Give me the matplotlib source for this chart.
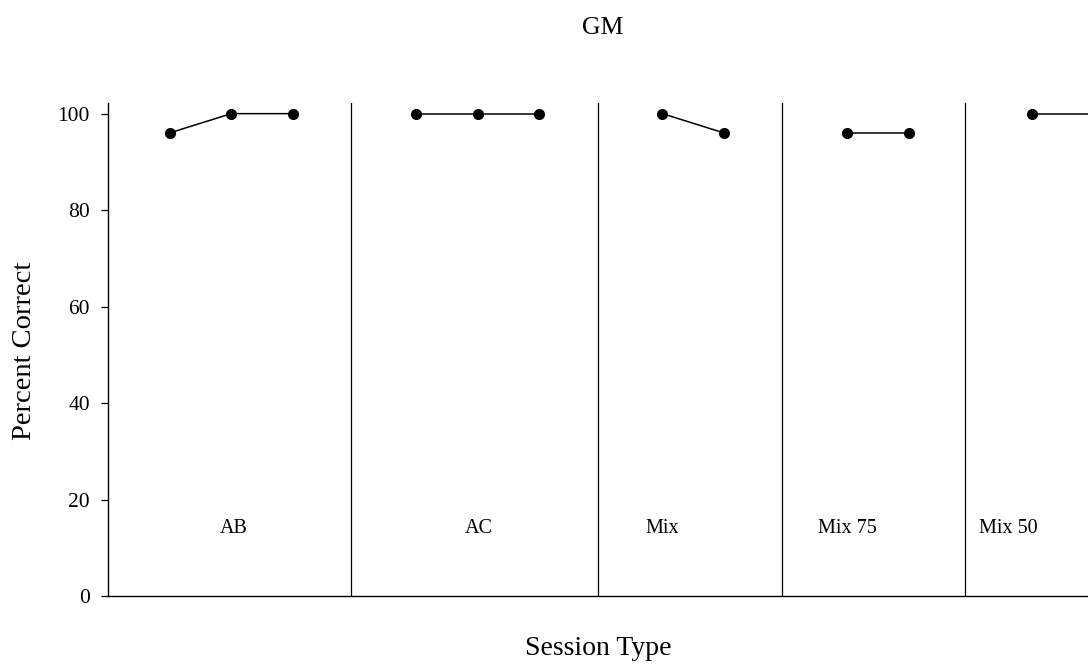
import matplotlib
matplotlib.use("Agg")
import matplotlib.pyplot as plt

plt.rcParams["font.family"] = ["Liberation Serif", "DejaVu Serif"]

# Sessions and percent correct per phase
phases = ["AB", "AC", "Mix", "Mix 75", "Mix 50"]
sessions = {
    "AB": [1, 2, 3],
    "AC": [5, 6, 7],
    "Mix": [9, 10],
    "Mix 75": [12, 13],
    "Mix 50": [15, 16],
}
percent = {
    "AB": [96, 100, 100],
    "AC": [100, 100, 100],
    "Mix": [100, 96],
    "Mix 75": [96, 96],
    "Mix 50": [100, 100],
}
phase_breaks = [3.95, 7.95, 10.95, 13.92]
label_x = [2.04, 6.02, 9.0, 12.0, 14.61]
label_y = 14
y_ticks = [0, 20, 40, 60, 80, 100]

fig = plt.figure(figsize=(10.88, 6.66), dpi=100)
ax = fig.add_axes([0.0993, 0.1051, 0.9007, 0.7402])

for name in phases:
    ax.plot(sessions[name], percent[name], color="black", lw=1.1,
            marker="o", ms=7, clip_on=True)

for xb in phase_breaks:
    ax.axvline(xb, color="black", lw=0.9)

for name, xl in zip(phases, label_x):
    ax.text(xl, label_y, name, ha="center", va="center", fontsize=14.5)

ax.set_xlim(0, 15.91)
ax.set_ylim(0, 102.2)
ax.set_yticks(y_ticks)
ax.set_xticks([])
ax.tick_params(axis="y", direction="out", length=5, width=0.9, labelsize=15.5, pad=8)
for side in ("top", "right"):
    ax.spines[side].set_visible(False)
for side in ("left", "bottom"):
    ax.spines[side].set_linewidth(1.0)

ax.set_ylabel("Percent Correct", fontsize=20.5)
ax.yaxis.label.set_va("center")
ax.yaxis.set_label_coords(-0.0857, 0.497)
ax.set_xlabel("Session Type", fontsize=20)
ax.xaxis.label.set_va("center")
ax.xaxis.set_label_coords(0.5, -0.107)
fig.text(0.554, 0.958, "GM", ha="center", va="center", fontsize=18.5)

fig.savefig("out.png", dpi=100)
